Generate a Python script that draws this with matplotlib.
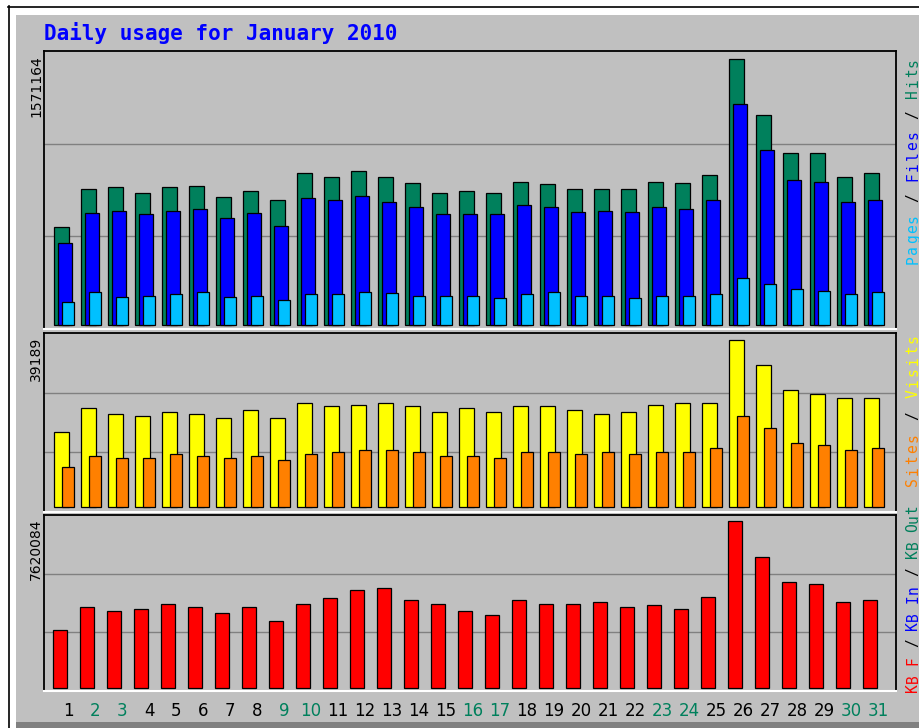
import numpy as np
import matplotlib
matplotlib.use('Agg')
import matplotlib.pyplot as plt
from matplotlib.patches import Rectangle
from matplotlib.lines import Line2D
import matplotlib.transforms as mtransforms

# ---------------- data ----------------
days = list(range(1, 32))
weekend_days = [2, 3, 9, 10, 16, 17, 23, 24, 30, 31]
title = "Daily usage for January 2010"

hits = [578850, 803300, 815110, 779670, 815110, 821020, 756040, 791480, 738330, 897800,
        874180, 909620, 874180, 838740, 779670, 791480, 779670, 844640, 832830, 803300,
        803300, 803300, 844640, 838740, 885990, 1571164, 1240390, 1015940, 1015940, 874180, 897800]
files = [484340, 661540, 673350, 655630, 673350, 685170, 632010, 661540, 584750, 750140,
         738330, 761950, 726510, 696980, 655630, 655630, 655630, 708790, 696980, 667450,
         673350, 667450, 696980, 685170, 738330, 1305360, 1033660, 856460, 844640, 726510, 738330]
pages = [135850, 194920, 165380, 171290, 183100, 194920, 165380, 171290, 147670, 183100,
         183100, 194920, 189010, 171290, 171290, 171290, 159480, 183100, 194920, 171290,
         171290, 159480, 171290, 171290, 183100, 277610, 242170, 212640, 200820, 183100, 194920]
visits = [17600, 23232, 21824, 21355, 22294, 21824, 20886, 22763, 20886, 24406,
          23702, 23936, 24406, 23702, 22294, 23232, 22294, 23702, 23702, 22763,
          21824, 22294, 23936, 24406, 24406, 39189, 33323, 27456, 26518, 25579, 25579]
sites = [9387, 11968, 11499, 11499, 12438, 11968, 11499, 11968, 11029, 12438,
         12907, 13376, 13376, 12907, 11968, 11968, 11499, 12907, 12907, 12438,
         12907, 12438, 12907, 12907, 13846, 21355, 18539, 15019, 14550, 13376, 13846]
kbytes = [2646480, 3695950, 3513430, 3604690, 3832840, 3695950, 3422180, 3695950, 3057140, 3832840,
          4106610, 4471640, 4562900, 4015350, 3832840, 3513430, 3330920, 4015350, 3832840, 3832840,
          3924090, 3695950, 3787210, 3604690, 4152240, 7620084, 5977400, 4836670, 4745420, 3924090, 4015350]

# ---------------- style ----------------
GREEN = '#00805C'
BLUE = '#0000FF'
CYAN = '#00C0FF'
YELLOW = '#FFFF00'
ORANGE = '#FF8000'
RED = '#FF0000'
GRAY = '#C0C0C0'
GRID = '#808080'

W, H = 920, 728
fig = plt.figure(figsize=(W / 100, H / 100), dpi=100, facecolor='white')


def fx(x):
    return x / W


def fy(y):
    return 1 - y / H


def frac_rect(l, t, r, b):
    return [l / W, 1 - b / H, (r - l) / W, (b - t) / H]


# background frame
fig.add_artist(Rectangle((fx(16), fy(722)), (W - 16) / W, (722 - 15) / H,
                         transform=fig.transFigure, facecolor=GRAY, edgecolor='none', zorder=0))
fig.add_artist(Rectangle((fx(16), fy(728)), (W - 16) / W, 6 / H,
                         transform=fig.transFigure, facecolor='#808080', edgecolor='none', zorder=0))
fig.add_artist(Line2D([fx(8.5), fx(8.5)], [fy(6), fy(728)], color='black', lw=1.2,
                      transform=fig.transFigure, zorder=1))
fig.add_artist(Line2D([fx(8), fx(W)], [fy(6.5), fy(6.5)], color='black', lw=1.2,
                      transform=fig.transFigure, zorder=1))

fig.text(fx(44), fy(33), title, color=BLUE, fontsize=15, fontweight='bold',
         family='DejaVu Sans Mono', ha='left', va='center')

XMAX = 852 / 27.0
x = np.arange(len(days))

ax1 = fig.add_axes(frac_rect(44, 51, 896, 329))
ax2 = fig.add_axes(frac_rect(44, 333, 896, 512))
ax3 = fig.add_axes(frac_rect(44, 515, 896, 691))

for ax in (ax1, ax2, ax3):
    ax.set_facecolor(GRAY)
    ax.set_xlim(0, XMAX)
    ax.set_xticks([])
    ax.set_yticks([])
    for s in ('top', 'left', 'right'):
        ax.spines[s].set_color('black')
        ax.spines[s].set_linewidth(1.3)
    ax.spines['bottom'].set_color('white')
    ax.spines['bottom'].set_linewidth(1.5)
    for f in (1 / 3, 2 / 3):
        ax.plot([0, 1], [f, f], transform=ax.transAxes, color=GRID, lw=1.0, zorder=0.5)

bkw = dict(align='edge', edgecolor='black', linewidth=0.9, zorder=2)

# panel 1
M1 = max(hits)
ax1.bar(x + 0.37, hits, 0.556, color=GREEN, **bkw)
ax1.bar(x + 0.52, files, 0.52, color=BLUE, **bkw)
ax1.bar(x + 0.667, pages, 0.444, color=CYAN, **bkw)
ax1.set_ylim(-0.015 * M1, 1.030 * M1)

# panel 2
M2 = max(visits)
ax2.bar(x + 0.37, visits, 0.556, color=YELLOW, **bkw)
ax2.bar(x + 0.667, sites, 0.444, color=ORANGE, **bkw)
ax2.set_ylim(-0.030 * M2, 1.042 * M2)

# panel 3
M3 = max(kbytes)
ax3.bar(x + 0.35, kbytes, 0.5, color=RED, **bkw)
ax3.set_ylim(-0.018 * M3, 1.036 * M3)

# max labels
for top, val in ((55, M1), (337, M2), (519, M3)):
    fig.text(fx(36), fy(top), str(val), rotation=90, ha='center', va='top',
             fontsize=10, color='black', family='DejaVu Sans')


def vlabel(segments, x_px, top_px, pitch):
    chars = []
    for txt, col in segments:
        for ch in txt:
            chars.append((ch, col))
    n = len(chars)
    for k, (ch, col) in enumerate(chars):
        if ch == ' ':
            continue
        y_px = top_px + (n - 1 - k + 0.5) * pitch
        fig.text(fx(x_px), fy(y_px), ch, rotation=90, ha='center', va='center',
                 fontsize=10.5, color=col, family='DejaVu Sans Mono')


vlabel([("Pages", CYAN), (" / ", 'black'), ("Files", BLUE), (" / ", 'black'), ("Hits", GREEN)],
       913, 57, 10.4)
vlabel([("Sites", ORANGE), (" / ", 'black'), ("Visits", YELLOW)], 913, 333, 11.0)
vlabel([("KB F", RED), (" / ", 'black'), ("KB In", BLUE), (" / ", 'black'), ("KB Out", GREEN)],
       913, 505, 8.9)

# day labels
trans = mtransforms.blended_transform_factory(ax3.transData, fig.transFigure)
for i, d in enumerate(days):
    col = GREEN if d in weekend_days else 'black'
    ax3.text(i + 0.89, fy(711), str(d), transform=trans, ha='center', va='center',
             fontsize=12, color=col, family='DejaVu Sans', clip_on=False)

fig.savefig('out.png', dpi=100, facecolor='white')
